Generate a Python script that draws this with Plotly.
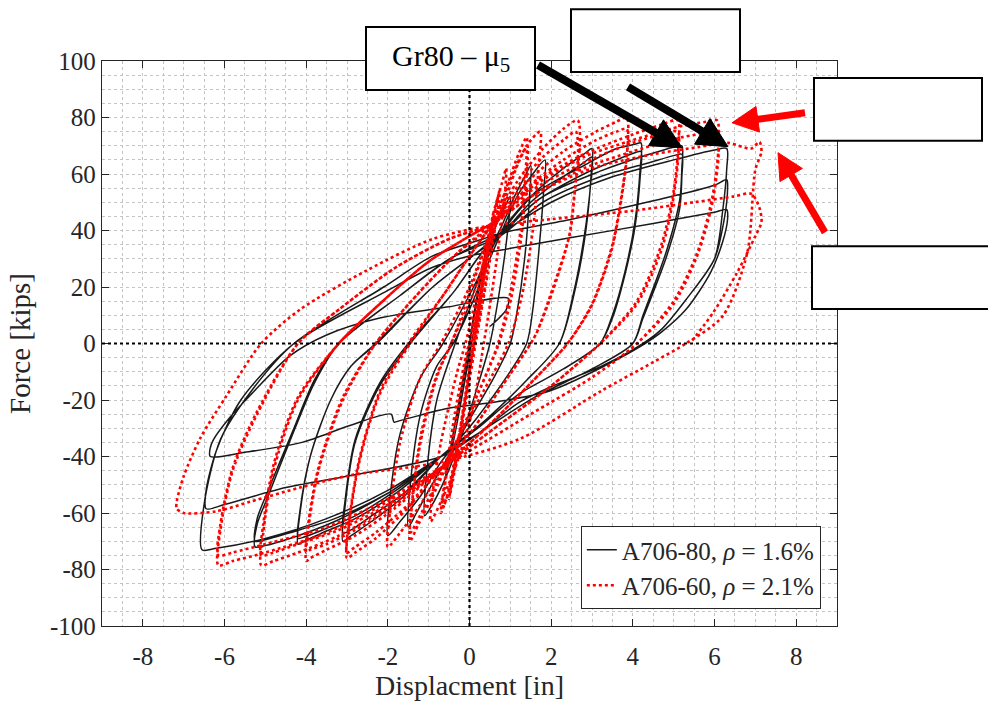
import math
import plotly.graph_objects as go

# ---------------- A706-80 (black, solid) : displacement [in], force [kips] ----------------
blk_elastic_disp = [0.0, 0.15, 0.3, 0.22, 0.05, -0.15, -0.3, -0.22, -0.05, 0.2, 0.45, 0.6, 0.5, 0.25, 0.05, -0.25, -0.5, -0.6, -0.5, -0.2, 0.0]
blk_elastic_force = [0, 14, 25, 18, 4, -14, -27, -20, -5, 18, 36, 44, 36, 16, 0, -24, -42, -48, -40, -16, 0]
blk_c1_disp = [0.3, 0.6, 0.85, 1.0, 0.95, 0.75, 0.5, 0.2, -0.2, -0.6, -0.95, -1.1, -1.05, -0.8, -0.35]
blk_c1_force = [24, 40, 48, 52, 42, 20, 0, -15, -33, -48, -58, -61, -46, -20, 0]
blk_c2_disp = [0.1, 0.5, 0.8, 1.1, 1.35, 1.5, 1.47, 1.35, 1.15, 1.0, 0.6, 0.0, -0.6, -1.0, -1.3, -1.5, -1.45, -1.2, -0.8, -0.4]
blk_c2_force = [18, 33, 42, 52, 59, 63, 52, 30, 10, 0, -12, -27, -42, -52, -60, -65, -50, -25, -8, 0]
blk_c3_disp = [0.0, 0.5, 0.8, 1.2, 1.55, 1.85, 1.82, 1.7, 1.55, 1.4, 0.9, 0.2, -0.7, -1.2, -1.7, -2.0, -1.95, -1.7, -1.2, -0.65]
blk_c3_force = [12, 30, 40, 53, 60, 65, 55, 33, 12, 0, -12, -26, -42, -54, -63, -68, -55, -32, -12, 0]
blk_c4_disp = [0.1, 0.75, 1.5, 2.3, 2.8, 3.0, 2.98, 2.85, 2.6, 2.2, 1.4, 0.4, -0.7, -1.6, -2.4, -2.9, -3.1, -3.05, -2.8, -2.2, -1.45]
blk_c4_force = [20, 39, 52, 62, 67, 69, 60, 40, 20, 0, -13, -27, -40, -54, -63, -68, -70, -58, -35, -15, 0]
blk_c5_disp = [-0.4, 0.3, 0.75, 1.5, 2.3, 2.8, 3.0, 2.97, 2.8, 2.55, 2.2, 1.4, 0.4, -0.7, -1.6, -2.4, -2.9, -3.1, -3.05, -2.8, -2.2, -1.5]
blk_c5_force = [18, 32, 38, 50, 59, 64, 66, 57, 37, 18, 0, -13, -27, -40, -53, -61, -66, -67, -56, -34, -14, 0]
blk_c6_disp = [-0.4, 0.3, 0.75, 1.6, 2.8, 3.6, 4.05, 4.2, 4.18, 4.05, 3.8, 3.5, 3.2, 2.3, 1.2, 0.2, -0.7, -1.8, -2.8, -3.6, -4.05, -4.2, -4.15, -3.9, -3.4, -2.9, -2.27]
blk_c6_force = [18, 32, 39, 53, 63, 69, 70.5, 71, 62, 43, 25, 10, 0, -9, -18, -30, -40, -53, -62, -67, -70, -71, -60, -40, -20, -8, 0]
blk_c7_disp = [-0.9, 0.08, 0.75, 1.6, 2.8, 3.6, 4.05, 4.2, 4.18, 4.05, 3.8, 3.5, 3.2, 2.3, 1.2, 0.2, -0.7, -1.8, -2.8, -3.6, -4.05, -4.2, -4.15, -3.9, -3.4, -2.9, -2.3]
blk_c7_force = [20, 31, 38, 50, 60, 65, 67.5, 68, 59, 41, 24, 9, 0, -9, -18, -30, -40, -52, -61, -66, -68.5, -69, -59, -40, -20, -8, 0]
blk_c8_disp = [-0.9, 0.08, 0.75, 1.8, 3.2, 4.4, 5.0, 5.2, 5.2, 5.15, 4.83, 4.25, 4.0, 3.0, 1.6, 0.3, -0.7, -2.0, -3.3, -4.4, -5.0, -5.25, -5.2, -4.96, -4.3, -3.8, -3.2]
blk_c8_force = [20, 31, 39, 52, 61, 67, 69.5, 70, 62, 51, 33, 10, 0, -9, -19, -31, -40, -53, -63, -69, -71.5, -72, -64, -55, -31, -14, 0]
blk_c9_disp = [-1.7, -0.48, 0.75, 1.8, 3.2, 4.4, 5.0, 5.2, 5.2, 5.15, 4.83, 4.25, 4.0, 3.0, 1.6, 0.3, -0.7, -2.0, -3.3, -4.4, -5.0, -5.25, -5.2, -4.96, -4.3, -3.8, -3.2]
blk_c9_force = [17, 30, 38, 50, 59, 64, 66.5, 67, 59, 48, 31, 9, 0, -9, -19, -31, -40, -53, -62, -67, -69.5, -70, -62, -53, -30, -13, 0]
blk_c10_disp = [-1.7, -0.48, 0.75, 2.0, 3.5, 5.0, 6.0, 6.3, 6.3, 6.2, 6.0, 5.3, 4.7, 4.25, 3.27, 2.05, 1.2, 0.2, -0.7, -2.0, -3.5, -5.0, -6.2, -6.55, -6.5, -6.1, -5.3, -4.3]
blk_c10_force = [17, 30, 39, 50, 59, 65, 68.5, 69, 62, 47, 30, 15.5, 5, 0, -7.8, -15, -21, -32, -40, -52, -62, -69, -72.5, -73, -57, -34, -16, 0]
blk_c11_disp = [-2.1, -0.9, 0.33, 0.75, 2.5, 4.5, 6.0, 6.3, 6.32, 6.25, 6.0, 5.3, 4.7, 4.25, 3.27, 2.05, 1.2, 0.2, -0.7, -2.9, -4.5, -6.0, -6.45, -6.45, -6.2, -5.6, -4.3]
blk_c11_force = [20, 31, 37, 39, 44, 50.5, 56, 58, 55, 45, 30, 15.5, 5, 0, -7.8, -15, -21, -32, -40, -46.7, -51, -57, -58.5, -52, -38, -20, 0]
blk_c12_disp = [-2.1, -0.9, 0.0, 0.75, 2.5, 4.5, 6.0, 6.3, 6.32, 6.2, 5.9, 5.3, 4.7, 4.3, 3.3, 1.96, 0.5, -0.55, -1.7, -1.85, -1.92, -2.93, -4.1, -5.5, -6.35, -6.35, -6.27, -5.86, -5.38, -4.4, -3.5, -2.2, -0.5, 0.95, 0.9, 0.5]
blk_c12_force = [18, 27, 31, 33, 37.5, 42.5, 46.5, 47.4, 44, 36, 25, 12, 4, 0, -8, -16.8, -21, -23, -27.3, -27.8, -25, -29, -35, -38.5, -40, -37, -34, -26, -18.5, -4.4, 3, 9, 13, 16, 12, 6]

# ---------------- A706-60 (red, dotted) ----------------
red_elastic_disp = [0.0, 0.2, 0.35, 0.28, 0.08, -0.1, -0.2, -0.12, 0.05, 0.3, 0.5, 0.58, 0.5, 0.25, 0.05, -0.2, -0.4, -0.5, -0.4, -0.1, 0.1, 0.35, 0.6, 0.75, 0.7, 0.45, 0.15, -0.2, -0.5, -0.65, -0.6, -0.3, 0.0,
                    0.3, 0.55, 0.7, 0.62, 0.35, 0.05, -0.25, -0.55, -0.7, -0.62, -0.35, -0.05, 0.0]
red_elastic_force = [0, 12, 25, 18, 0, -18, -30, -22, -5, 18, 38, 46, 38, 14, -5, -30, -48, -55, -46, -18, 0, 25, 45, 55, 48, 25, 0, -30, -52, -58, -50, -25, 0,
                     20, 42, 52, 44, 18, -6, -32, -54, -60, -50, -24, -2, 0]
red_c1_disp = [0.35, 0.6, 0.8, 0.9, 0.86, 0.65, 0.35, 0.05, -0.35, -0.7, -0.95, -0.92, -0.7, -0.3, -0.1]
red_c1_force = [30, 47, 57, 62, 52, 28, 0, -25, -44, -56, -63, -55, -35, -10, 0]
red_c2_disp = [0.3, 0.6, 0.9, 1.2, 1.4, 1.38, 1.25, 1.0, 0.7, 0.2, -0.4, -0.9, -1.25, -1.46, -1.42, -1.2, -0.8, -0.45]
red_c2_force = [25, 42, 55, 67, 73, 62, 40, 18, 0, -18, -38, -54, -64, -70, -58, -35, -12, 0]
red_c3_disp = [0.1, 0.6, 0.9, 1.2, 1.42, 1.4, 1.27, 1.02, 0.72, 0.2, -0.4, -0.9, -1.25, -1.45, -1.4, -1.2, -0.8, -0.45]
red_c3_force = [18, 40, 52, 64, 70, 60, 38, 16, 0, -18, -37, -52, -62, -67, -56, -33, -11, 0]
red_c4_disp = [0.1, 0.6, 1.0, 1.4, 1.73, 1.7, 1.55, 1.3, 0.95, 0.3, -0.6, -1.2, -1.7, -2.0, -1.95, -1.7, -1.2, -0.7]
red_c4_force = [22, 43, 58, 70, 75, 64, 40, 18, 0, -18, -42, -57, -67, -72, -60, -35, -12, 0]
red_c5_disp = [0.0, 0.6, 1.2, 1.8, 2.3, 2.65, 2.7, 2.6, 2.46, 2.05, 1.65, 1.5, 0.8, 0.0, -0.7, -1.5, -2.3, -2.8, -3.0, -2.95, -2.7, -2.2, -1.45]
red_c5_force = [20, 43, 58, 69, 76, 79, 70, 57, 39, 20, 4, 0, -15, -32, -44, -58, -69, -74, -76, -64, -42, -18, 0]
red_c6_disp = [-0.6, 0.1, 0.6, 1.2, 1.8, 2.3, 2.6, 2.66, 2.58, 2.44, 2.05, 1.65, 1.5, 0.8, 0.0, -0.7, -1.5, -2.3, -2.8, -3.0, -2.95, -2.7, -2.2, -1.5]
red_c6_force = [18, 33, 43, 56, 66, 72, 75, 68, 55, 38, 19, 4, 0, -15, -32, -44, -57, -67, -72, -74, -63, -41, -17, 0]
red_c7_disp = [-0.6, 0.1, 0.6, 1.4, 2.3, 3.1, 3.6, 3.85, 3.88, 3.75, 3.5, 3.0, 2.4, 1.5, 0.4, -0.7, -1.8, -2.8, -3.5, -3.9, -4.0, -3.95, -3.7, -3.1, -2.3]
red_c7_force = [18, 33, 43, 57, 68, 75, 78.5, 80, 72, 55, 35, 14, 0, -14, -30, -44, -58, -68, -73, -76, -77, -66, -45, -20, 0]
red_c8_disp = [-1.3, -0.3, 0.6, 1.4, 2.3, 3.1, 3.6, 3.85, 3.87, 3.74, 3.48, 2.98, 2.4, 1.5, 0.4, -0.7, -1.8, -2.8, -3.5, -3.9, -4.0, -3.95, -3.7, -3.1, -2.3]
red_c8_force = [17, 32, 42, 55, 65, 72, 75, 76, 69, 53, 33, 13, 0, -14, -30, -44, -57, -66, -71, -73, -74, -64, -44, -19, 0]
red_c9_disp = [-1.3, -0.3, 0.6, 1.5, 2.8, 4.0, 4.7, 5.1, 5.12, 5.0, 4.7, 4.1, 3.2, 2.0, 0.8, -0.7, -2.0, -3.2, -4.2, -4.8, -5.1, -5.05, -4.8, -4.2, -3.2]
red_c9_force = [17, 32, 43, 56, 67, 74, 77.5, 79, 71, 54, 35, 15, 0, -15, -28, -44, -58, -68, -74, -77, -78.5, -67, -45, -20, 0]
red_c10_disp = [-2.2, -1.0, 0.0, 0.6, 1.5, 2.8, 4.0, 4.7, 5.1, 5.12, 5.0, 4.7, 4.1, 3.2, 2.0, 0.8, -0.7, -2.0, -3.2, -4.2, -4.8, -5.1, -5.05, -4.8, -4.2, -3.2]
red_c10_force = [14, 29, 38, 43, 54, 64, 71, 74, 75, 68, 52, 33, 14, 0, -15, -28, -44, -57, -66, -71, -74, -75, -64, -43, -19, 0]
red_c11_disp = [-2.2, -1.0, 0.0, 0.6, 1.5, 2.8, 4.0, 5.2, 5.8, 6.06, 6.1, 5.95, 5.6, 5.0, 4.1, 3.0, 1.5, 0.0, -0.7, -2.0, -3.5, -5.0, -5.8, -6.15, -6.1, -5.8, -5.2, -4.2]
red_c11_force = [14, 29, 38, 43, 55, 66, 72, 77, 78.5, 79, 70, 52, 33, 15, 0, -12, -25, -38, -44, -56, -67, -74, -77, -78.5, -66, -45, -25, 0]
red_c12_disp = [-3.2, -1.8, -0.5, 0.5, 1.5, 2.8, 4.0, 5.2, 5.8, 6.06, 6.1, 5.95, 5.6, 5.0, 4.1, 3.0, 1.5, 0.0, -0.7, -2.0, -3.5, -5.0, -5.8, -6.15, -6.1, -5.8, -5.2, -4.2]
red_c12_force = [12, 27, 37, 42, 52, 62, 68, 73, 74.5, 75, 67, 50, 32, 14, 0, -12, -25, -38, -44, -55, -65, -71, -74, -75, -64, -44, -24, 0]
red_c13_disp = [-3.2, -1.8, -0.5, 0.5, 1.5, 3.0, 4.5, 5.6, 6.33, 6.9, 7.1, 7.15, 7.0, 6.8, 6.2, 5.3, 4.5, 3.2, 1.24, -0.7, -2.93, -4.15, -5.37, -6.2, -7.0, -7.17, -7.17, -7.0, -6.6, -5.95, -5.1]
red_c13_force = [12, 27, 37, 42, 52, 62, 67, 69.5, 71, 69, 71.4, 68, 61.5, 32, 9.7, 0, -6.6, -17, -33.7, -42, -46.7, -51, -56, -59.4, -60, -58.5, -56, -47, -33.7, -18.5, 0]
red_c14_disp = [-4.15, -2.5, -0.9, 0.42, 2.0, 4.0, 5.5, 6.45, 6.9, 7.1, 7.15, 7.0, 6.55, 5.97, 5.4]
red_c14_force = [12, 26, 37, 41.5, 44, 47, 50, 52, 53, 48, 43, 38, 25, 11, 0]

# axis ticks
x_ticks = [-8, -6, -4, -2, 0, 2, 4, 6, 8]
x_tick_text = ["-8", "-6", "-4", "-2", "0", "2", "4", "6", "8"]
y_ticks = [-100, -80, -60, -40, -20, 0, 20, 40, 60, 80, 100]
y_tick_text = ["-100", "-80", "-60", "-40", "-20", "0", "20", "40", "60", "80", "100"]

blk_disp = (blk_elastic_disp + blk_c1_disp + blk_c2_disp + blk_c3_disp + blk_c4_disp + blk_c5_disp +
            blk_c6_disp + blk_c7_disp + blk_c8_disp + blk_c9_disp + blk_c10_disp + blk_c11_disp + blk_c12_disp)
blk_force = (blk_elastic_force + blk_c1_force + blk_c2_force + blk_c3_force + blk_c4_force + blk_c5_force +
             blk_c6_force + blk_c7_force + blk_c8_force + blk_c9_force + blk_c10_force + blk_c11_force + blk_c12_force)
red_disp = (red_elastic_disp + red_c1_disp + red_c2_disp + red_c3_disp + red_c4_disp + red_c5_disp + red_c6_disp +
            red_c7_disp + red_c8_disp + red_c9_disp + red_c10_disp + red_c11_disp + red_c12_disp + red_c13_disp + red_c14_disp)
red_force = (red_elastic_force + red_c1_force + red_c2_force + red_c3_force + red_c4_force + red_c5_force + red_c6_force +
             red_c7_force + red_c8_force + red_c9_force + red_c10_force + red_c11_force + red_c12_force + red_c13_force + red_c14_force)

FONT = "Liberation Serif"
AX = "#262626"
GRID = "#c4c4c4"

# plot-area geometry (pixels) used to place callout graphics in paper coordinates
W, H = 988, 706
ML, MR, MT, MB = 102, 151, 61, 78
PW, PH = W - ML - MR, H - MT - MB


def px2paper(px, py):
    return (px - ML) / PW, (H - MB - py) / PH


fig = go.Figure()
fig.add_trace(go.Scatter(x=blk_disp, y=blk_force, mode="lines", name="A706-80, <i>ρ</i> = 1.6%",
                         line=dict(color="#1a1a1a", width=1.5, shape="spline", smoothing=0.8)))
fig.add_trace(go.Scatter(x=red_disp, y=red_force, mode="lines", name="A706-60, <i>ρ</i> = 2.1%",
                         line=dict(color="#ff0000", width=2.6, dash="dot", shape="spline", smoothing=0.8)))

# dotted zero lines
fig.add_shape(type="line", xref="x", yref="y", x0=0, x1=0, y0=-100, y1=100,
              line=dict(color="black", width=2.2, dash="dot"), layer="above")
fig.add_shape(type="line", xref="x", yref="y", x0=-9, x1=9, y0=0, y1=0,
              line=dict(color="black", width=2.2, dash="dot"), layer="above")

# callout boxes (pixel rectangles -> paper)
box_px = [(366, 27, 535, 90), (571, 9, 740, 72), (814, 78, 982, 141), (812, 247, 994, 310)]
for x0p, y0p, x1p, y1p in box_px:
    x0, y1 = px2paper(x0p, y0p)
    x1, y0 = px2paper(x1p, y1p)
    fig.add_shape(type="rect", xref="paper", yref="paper", x0=x0, y0=y0, x1=x1, y1=y1,
                  line=dict(color="black", width=2), fillcolor="white", layer="above")

tx, ty = px2paper(450.5, 58)
fig.add_annotation(xref="paper", yref="paper", x=tx, y=ty, xanchor="center", yanchor="middle",
                   text="Gr80 – μ<sub>5</sub>", showarrow=False,
                   font=dict(family=FONT, size=30, color="black"))

# arrows: (tail px, tip px, color, shaft width, head length, head half-width)
arrows_px = [((538, 65), (682, 148), "black", 8, 30, 15),
             ((628, 87), (728, 147), "black", 8, 30, 15),
             ((805, 113), (732, 123), "#ff0000", 7, 26, 13),
             ((825, 233), (778, 153), "#ff0000", 7, 26, 13)]
for (tx0, ty0), (tx1, ty1), col, w, hl, hw in arrows_px:
    dx, dy = tx1 - tx0, ty1 - ty0
    L = math.hypot(dx, dy)
    ux, uy = dx / L, dy / L
    bx, by = tx1 - hl * ux, ty1 - hl * uy
    nx, ny = -uy, ux
    a0 = px2paper(tx0, ty0)
    a1 = px2paper(bx + 2 * ux, by + 2 * uy)
    fig.add_shape(type="line", xref="paper", yref="paper", x0=a0[0], y0=a0[1], x1=a1[0], y1=a1[1],
                  line=dict(color=col, width=w), layer="above")
    p1 = px2paper(tx1, ty1)
    p2 = px2paper(bx + hw * nx, by + hw * ny)
    p3 = px2paper(bx - hw * nx, by - hw * ny)
    path = f"M {p1[0]},{p1[1]} L {p2[0]},{p2[1]} L {p3[0]},{p3[1]} Z"
    fig.add_shape(type="path", xref="paper", yref="paper", path=path,
                  fillcolor=col, line=dict(color=col, width=1), layer="above")

fig.update_layout(
    width=W, height=H,
    margin=dict(l=ML, r=MR, t=MT, b=MB),
    paper_bgcolor="white", plot_bgcolor="white",
    font=dict(family=FONT, size=25, color=AX),
    showlegend=True,
    legend=dict(x=0.978, y=0.03, xanchor="right", yanchor="bottom", bgcolor="white",
                bordercolor=AX, borderwidth=1, font=dict(family=FONT, size=25, color=AX),
                tracegroupgap=0, itemwidth=30),
)
fig.update_xaxes(range=[-9, 9], tickvals=x_ticks, ticktext=x_tick_text, ticks="inside", ticklen=7, tickcolor=AX,
                 showline=True, linecolor=AX, linewidth=1.3, mirror="ticks", ticklabelstandoff=8,
                 showgrid=True, gridcolor=GRID, griddash="dot", gridwidth=1, zeroline=False,
                 minor=dict(dtick=0.5, tick0=0, showgrid=True, gridcolor=GRID, griddash="dot", gridwidth=1),
                 tickfont=dict(family=FONT, size=25, color=AX),
                 title=dict(text="Displacment [in]", font=dict(family=FONT, size=28, color=AX), standoff=4))
fig.update_yaxes(range=[-100, 100], tickvals=y_ticks, ticktext=y_tick_text, ticks="inside", ticklen=7, tickcolor=AX,
                 showline=True, linecolor=AX, linewidth=1.3, mirror="ticks",
                 showgrid=True, gridcolor=GRID, griddash="dot", gridwidth=1, zeroline=False,
                 minor=dict(dtick=5, tick0=0, showgrid=True, gridcolor=GRID, griddash="dot", gridwidth=1),
                 tickfont=dict(family=FONT, size=25, color=AX),
                 title=dict(text="Force [kips]", font=dict(family=FONT, size=29, color=AX), standoff=10))

fig.write_html("out.html")
